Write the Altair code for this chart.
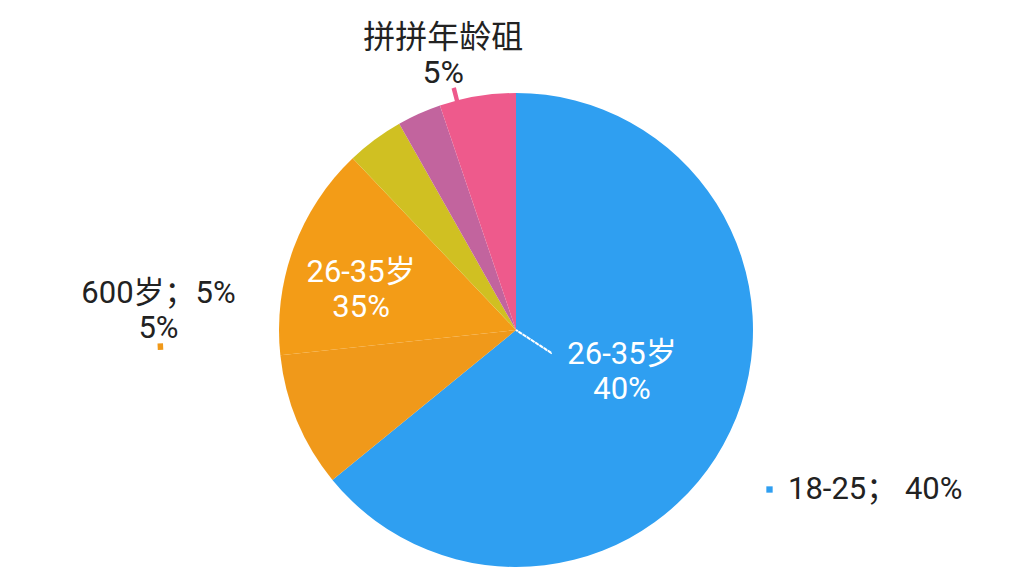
import math
import altair as alt
import pandas as pd

# ---- data ----
categories = ["18-25", "600岁", "26-35岁", "36-45岁", "46-55岁", "拼拼年龄砠"]
values = [64.1, 9.2, 14.6, 3.9, 3.0, 5.2]
colors = ["#2F9FF1", "#F0991A", "#F39C17", "#D0C022", "#C2649E", "#EE5A8C"]
slice_labels = ["26-35岁\n40%", "600岁；5%\n5%", "26-35岁\n35%", "", "", "拼拼年龄砠\n5%"]
legend_values = ["18-25"]
legend_label = "18-25；  40%"

df = pd.DataFrame({
    "category": categories,
    "value": values,
    "order": list(range(len(categories))),
    "label": slice_labels,
})

W, H = 1008, 560
CX, CY = 508, 322
R = 237
FONT = "Roboto, Noto Sans CJK SC, sans-serif"

base = alt.Chart(df).encode(
    theta=alt.Theta("value:Q", stack=True),
    order=alt.Order("order:Q"),
    x=alt.value(CX),
    y=alt.value(CY),
)

pie = base.mark_arc(radius=R, stroke=None).encode(
    color=alt.Color(
        "category:N",
        scale=alt.Scale(domain=categories, range=colors),
        legend=alt.Legend(
            values=legend_values,
            orient="none",
            legendX=746,
            legendY=466,
            title=None,
            symbolType="square",
            symbolSize=40,
            symbolStrokeWidth=0,
            labelFontSize=31,
            labelFont=FONT,
            labelColor="#222222",
            labelOffset=3,
            labelLimit=0,
            labelExpr=f"'{legend_label}'",
        ),
    )
)

def label_layer(cat, radius, theta_off, color, size=31):
    return base.transform_calculate(
        t=f"datum.category == '{cat}' ? datum.label : ''"
    ).mark_text(
        radius=radius,
        thetaOffset=theta_off,
        lineBreak="\n",
        fontSize=size,
        font=FONT,
        color=color,
        align="center",
        baseline="middle",
        lineHeight=35,
        dy=-17,
    ).encode(text="t:N")

labels = [
    label_layer("18-25", 114, -0.066, "white"),
    label_layer("26-35岁", 160, -0.099, "white"),
    label_layer("拼拼年龄砠", 284, -0.096, "#222222", 32),
    label_layer("600岁", 358, 0.449, "#222222"),
]

# leader lines
total = sum(values)
one = alt.Data(values=[{"k": 1}])
blue_mid = math.pi * values[0] / total
leader = alt.Chart(one).mark_arc(
    theta=blue_mid + 0.13, theta2=blue_mid + 0.135,
    innerRadius=0, outerRadius=42,
    fill="white", stroke="white", strokeWidth=2, strokeDash=[3, 2],
).encode(x=alt.value(CX), y=alt.value(CY))

pink_start = 2 * math.pi * sum(values[:5]) / total
pink_leader = alt.Chart(one).mark_arc(
    theta=pink_start + 0.07, theta2=pink_start + 0.08,
    innerRadius=R, outerRadius=R + 12,
    fill=colors[5], stroke=colors[5], strokeWidth=2,
).encode(x=alt.value(CX), y=alt.value(CY))

orange_mid = 2 * math.pi * (values[0] + values[1] / 2) / total
orange_leader = alt.Chart(one).mark_arc(
    theta=orange_mid + 0.342, theta2=orange_mid + 0.356,
    innerRadius=354, outerRadius=358,
    fill=colors[1], stroke=colors[1], strokeWidth=1.5,
).encode(x=alt.value(CX), y=alt.value(CY))

chart = alt.layer(pie, leader, pink_leader, orange_leader, *labels).properties(
    width=W, height=H, autosize=alt.AutoSizeParams(type="none"), padding=0,
    background="white",
).configure_view(stroke=None)

chart.save("out.html", embed_options={"renderer": "svg", "actions": False})
